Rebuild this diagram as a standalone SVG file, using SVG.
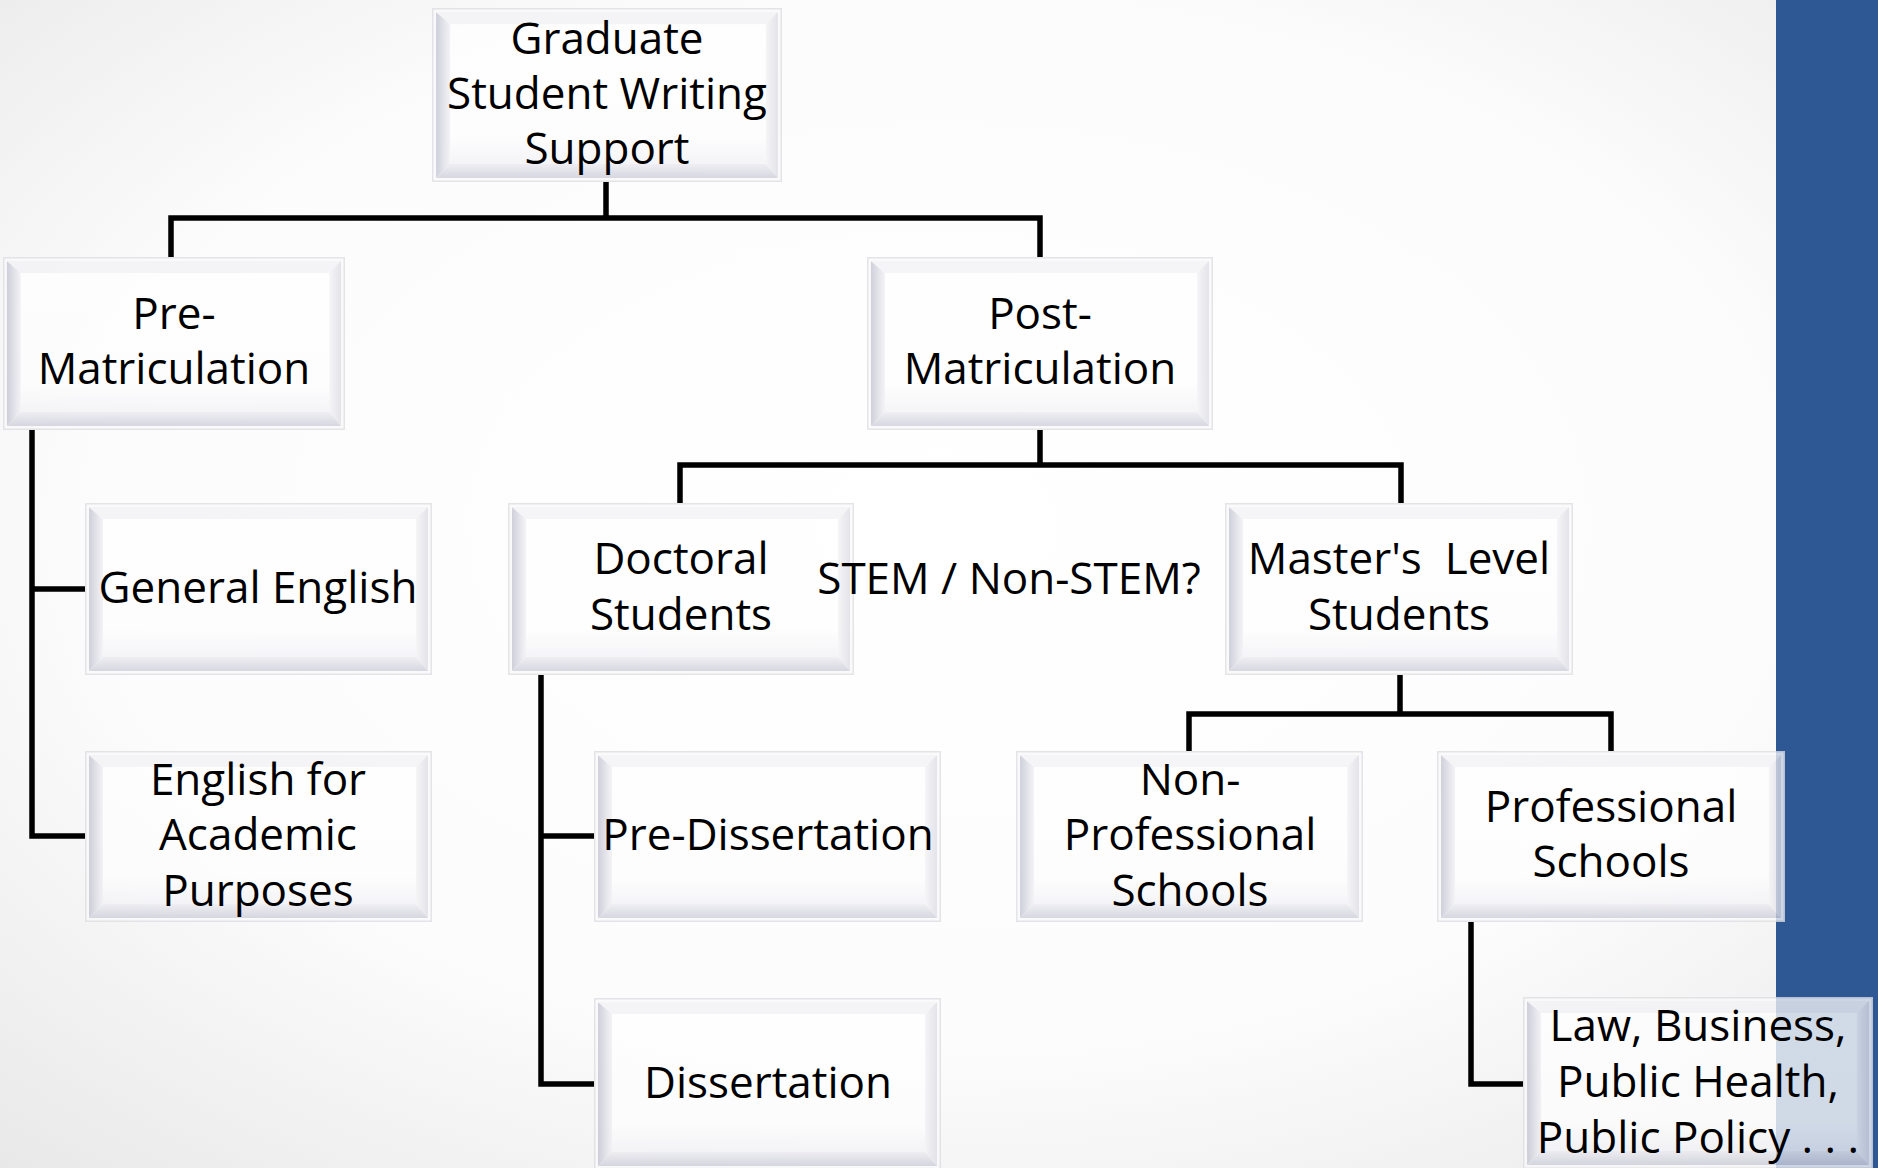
<svg xmlns="http://www.w3.org/2000/svg" width="1878" height="1168" viewBox="0 0 1878 1168">
  <defs>
    <radialGradient id="bg" cx="0.5" cy="0.45" r="0.75">
      <stop offset="0" stop-color="#ffffff"/>
      <stop offset="0.6" stop-color="#fcfcfc"/>
      <stop offset="1" stop-color="#e8e8e8"/>
    </radialGradient>
    <linearGradient id="face" x1="0" y1="0" x2="0" y2="1">
      <stop offset="0" stop-color="#ffffff"/>
      <stop offset="0.8" stop-color="#fefefe"/>
      <stop offset="1" stop-color="#f3f3f7"/>
    </linearGradient>
    <linearGradient id="lbev" x1="0" y1="0" x2="1" y2="0">
      <stop offset="0" stop-color="#c4c4d3"/>
      <stop offset="1" stop-color="#f2f2f6"/>
    </linearGradient>
    <linearGradient id="bbev" x1="0" y1="0" x2="0" y2="1">
      <stop offset="0" stop-color="#ebebf1"/>
      <stop offset="1" stop-color="#cdcdd9"/>
    </linearGradient>
    <linearGradient id="rbev" x1="0" y1="0" x2="1" y2="0">
      <stop offset="0" stop-color="#f4f4f7"/>
      <stop offset="1" stop-color="#dcdce4"/>
    </linearGradient>
    <symbol id="box" viewBox="0 0 346 172" preserveAspectRatio="none">
      <rect x="0.75" y="0.75" width="344.5" height="170.5" fill="#fafafb" stroke="#dedee3" stroke-width="1.5"/>
      <polygon points="4,4 18,16 18,154 4,168" fill="url(#lbev)"/>
      <polygon points="4,4 342,4 330,16 18,16" fill="#f3f3f6"/>
      <polygon points="342,4 342,168 330,154 330,16" fill="url(#rbev)"/>
      <polygon points="4,168 342,168 330,154 18,154" fill="url(#bbev)"/>
      <rect x="18" y="16" width="312" height="138" fill="url(#face)"/>
    </symbol>
    <style>
      .bx { opacity: 0.78; }
      .t { font-family: "Open Sans", "Liberation Sans", sans-serif; font-size: 44px; fill: #000; text-anchor: middle; }
      .c { fill: none; stroke: #000; stroke-width: 5.5; stroke-linejoin: miter; stroke-linecap: butt; }
    </style>
  </defs>

  <rect x="0" y="0" width="1878" height="1168" fill="url(#bg)"/>
  <rect x="1776" y="0" width="102" height="1168" fill="#2e5894"/>

  <g id="connectors">
    <path class="c" d="M606,182 V218 M171,257 V218 H1040 V257"/>
    <path class="c" d="M32,430 V836 H85 M32,589 H85"/>
    <path class="c" d="M1040,430 V465 M680,503 V465 H1401 V503"/>
    <path class="c" d="M541,675 V1084 H594 M541,836 H594"/>
    <path class="c" d="M1400,675 V714 M1189,751 V714 H1611 V751"/>
    <path class="c" d="M1471,922 V1084 H1523"/>
  </g>

  <g id="node-graduate">
    <use href="#box" class="bx" x="432" y="8" width="350" height="174"/>
    <text class="t" x="607" y="54">Graduate</text>
    <text class="t" x="607" y="109">Student Writing</text>
    <text class="t" x="607" y="164">Support</text>
  </g>

  <g id="node-pre-matriculation">
    <use href="#box" class="bx" x="3" y="257" width="342" height="173"/>
    <text class="t" x="174" y="329">Pre-</text>
    <text class="t" x="174" y="384">Matriculation</text>
  </g>

  <g id="node-post-matriculation">
    <use href="#box" class="bx" x="867" y="257" width="346" height="173"/>
    <text class="t" x="1040" y="329">Post-</text>
    <text class="t" x="1040" y="384">Matriculation</text>
  </g>

  <g id="node-general-english">
    <use href="#box" class="bx" x="85" y="503" width="347" height="172"/>
    <text class="t" x="258" y="603">General English</text>
  </g>

  <g id="node-eap">
    <use href="#box" class="bx" x="85" y="751" width="347" height="171"/>
    <text class="t" x="258" y="795">English for</text>
    <text class="t" x="258" y="850">Academic</text>
    <text class="t" x="258" y="906">Purposes</text>
  </g>

  <g id="node-doctoral">
    <use href="#box" class="bx" x="508" y="503" width="346" height="172"/>
    <text class="t" x="681" y="574">Doctoral</text>
    <text class="t" x="681" y="630">Students</text>
  </g>

  <g id="label-stem">
    <text class="t" x="1009" y="594">STEM / Non-STEM?</text>
  </g>

  <g id="node-masters">
    <use href="#box" class="bx" x="1225" y="503" width="348" height="172"/>
    <text class="t" x="1399" y="574" xml:space="preserve">Master's  Level</text>
    <text class="t" x="1399" y="630">Students</text>
  </g>

  <g id="node-pre-dissertation">
    <use href="#box" class="bx" x="594" y="751" width="347" height="171"/>
    <text class="t" x="768" y="850">Pre-Dissertation</text>
  </g>

  <g id="node-dissertation">
    <use href="#box" class="bx" x="594" y="998" width="347" height="172"/>
    <text class="t" x="768" y="1098">Dissertation</text>
  </g>

  <g id="node-non-professional">
    <use href="#box" class="bx" x="1016" y="751" width="347" height="171"/>
    <text class="t" x="1190" y="795">Non-</text>
    <text class="t" x="1190" y="850">Professional</text>
    <text class="t" x="1190" y="906">Schools</text>
  </g>

  <g id="node-professional">
    <use href="#box" class="bx" x="1437" y="751" width="348" height="171"/>
    <text class="t" x="1611" y="822">Professional</text>
    <text class="t" x="1611" y="877">Schools</text>
  </g>

  <g id="node-law">
    <use href="#box" class="bx" x="1523" y="997" width="350" height="172"/>
    <text class="t" x="1698" y="1041">Law, Business,</text>
    <text class="t" x="1698" y="1097">Public Health,</text>
    <text class="t" x="1698" y="1153">Public Policy . . .</text>
  </g>
</svg>
